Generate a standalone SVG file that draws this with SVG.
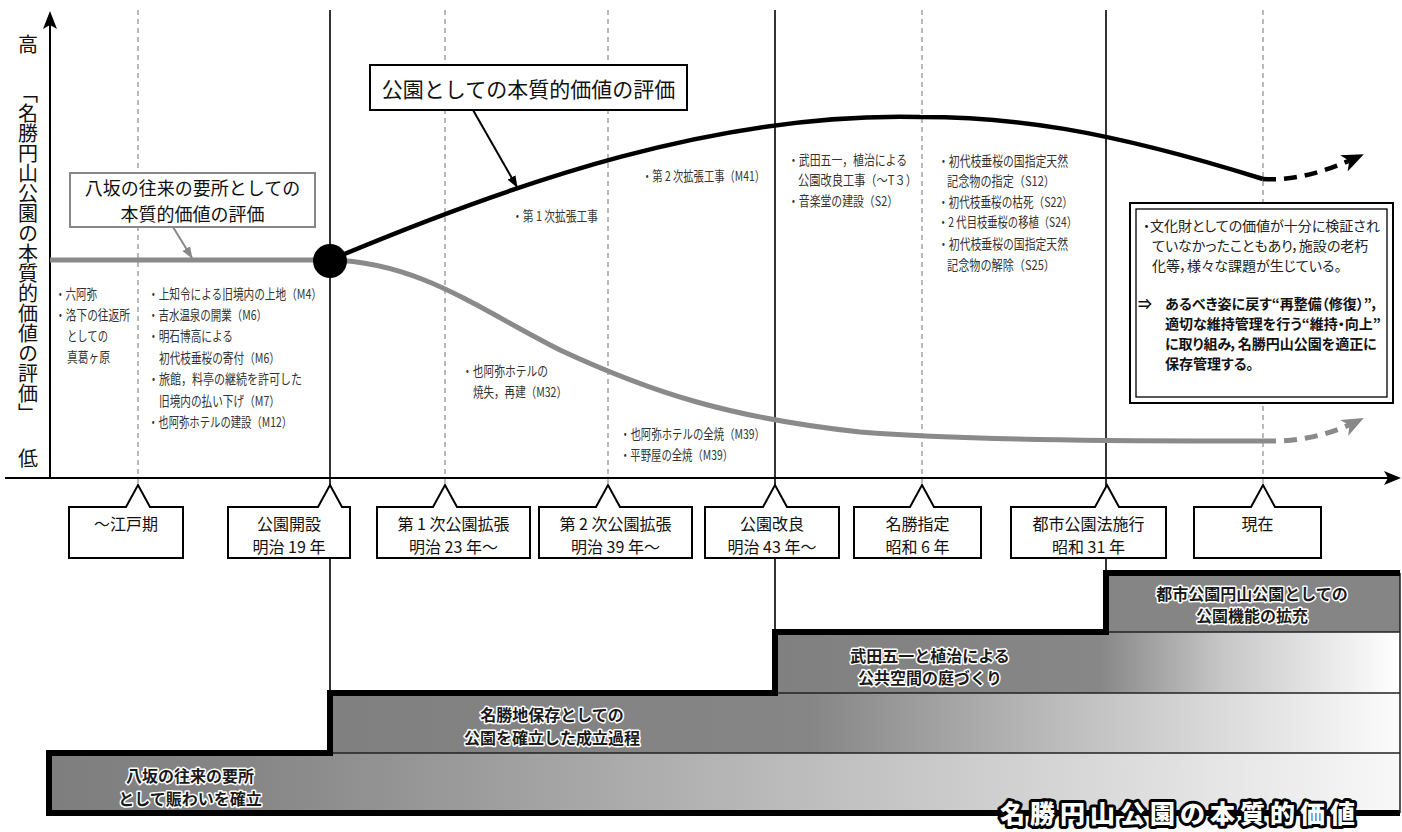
<svg xmlns="http://www.w3.org/2000/svg" width="1402" height="832" viewBox="0 0 1402 832">
<defs>
<style>
text { font-family: "Noto Sans CJK JP", "Noto Sans", sans-serif; dominant-baseline: central; }
.s { font-size: 13.5px; fill: #333; }
.lbl { font-size: 16px; fill: #111; text-anchor: middle; }
.ttl { font-size: 21px; fill: #111; text-anchor: middle; }
.ttl2 { font-size: 18px; fill: #111; text-anchor: middle; }
.ax { font-size: 20px; fill: #111; }
.note { font-size: 14px; fill: #222; font-feature-settings: "palt"; }
.noteb { font-size: 14px; fill: #111; font-weight: 700; font-feature-settings: "palt"; }
.band { font-size: 16px; font-weight: 700; fill: #1a1a1a; stroke: #fff; stroke-width: 3px; paint-order: stroke; stroke-linejoin: round; text-anchor: middle; }
.big { font-size: 25px; font-weight: 900; fill: #fff; stroke: #000; stroke-width: 6px; paint-order: stroke; stroke-linejoin: round; text-anchor: middle; letter-spacing: 5px; }
.dash { stroke: #a8a8a8; stroke-width: 1.6; stroke-dasharray: 5 4; fill: none; }
.solid { stroke: #000; stroke-width: 1.6; fill: none; }
.tb { fill: #fff; stroke: #000; stroke-width: 2; }
.sep { stroke: #222; stroke-width: 1.5; fill: none; }
</style>
<marker id="ahB" markerUnits="userSpaceOnUse" markerWidth="22" markerHeight="20" viewBox="0 0 22 20" refX="20" refY="10" orient="auto"><path d="M0,1 L22,10 L0,19 L6,10 Z" fill="#000"/></marker>
<marker id="ahG" markerUnits="userSpaceOnUse" markerWidth="22" markerHeight="20" viewBox="0 0 22 20" refX="20" refY="10" orient="auto"><path d="M0,1 L22,10 L0,19 L6,10 Z" fill="#888"/></marker>
<marker id="aS" markerUnits="userSpaceOnUse" markerWidth="12" markerHeight="10" viewBox="0 0 12 10" refX="11" refY="5" orient="auto"><path d="M0,0.5 L12,5 L0,9.5 Z" fill="#000"/></marker>
<marker id="aSG" markerUnits="userSpaceOnUse" markerWidth="12" markerHeight="10" viewBox="0 0 12 10" refX="11" refY="5" orient="auto"><path d="M0,0.5 L12,5 L0,9.5 Z" fill="#888"/></marker>
<linearGradient id="g1" x1="0" y1="0" x2="1" y2="0"><stop offset="0" stop-color="#7e7e7e"/><stop offset="0.15" stop-color="#868686"/><stop offset="0.5" stop-color="#b5b5b5"/><stop offset="0.8" stop-color="#dcdcdc"/><stop offset="1" stop-color="#f8f8f8"/></linearGradient>
<linearGradient id="g2" x1="0" y1="0" x2="1" y2="0"><stop offset="0" stop-color="#808080"/><stop offset="0.45" stop-color="#868686"/><stop offset="0.7" stop-color="#c0c0c0"/><stop offset="1" stop-color="#fcfcfc"/></linearGradient>
<linearGradient id="g3" x1="0" y1="0" x2="1" y2="0"><stop offset="0" stop-color="#808080"/><stop offset="0.52" stop-color="#878787"/><stop offset="0.72" stop-color="#c8c8c8"/><stop offset="1" stop-color="#ffffff"/></linearGradient>
</defs>
<rect width="1402" height="832" fill="#fff"/>

<!-- bottom staircase -->
<g id="bands">
<rect x="49" y="753" width="1351" height="60" fill="url(#g1)"/>
<rect x="330" y="693" width="1070" height="60" fill="url(#g2)"/>
<rect x="775" y="632" width="625" height="61" fill="url(#g3)"/>
<rect x="1106" y="573" width="294" height="59" fill="#858585"/>
<path class="sep" d="M330,753 H1400 M775,693 H1400 M1106,632 H1400 M1400,573 V813"/>
<path d="M1400,573 H1106 V632 H775 V693 H330 V753 H49 V813 H1400" fill="none" stroke="#000" stroke-width="6" stroke-linejoin="miter"/>
</g>

<!-- grid lines -->
<g id="grid">
<line class="dash" x1="138" y1="10" x2="138" y2="486"/>
<line class="dash" x1="445" y1="10" x2="445" y2="486"/>
<line class="dash" x1="608" y1="10" x2="608" y2="486"/>
<line class="dash" x1="922" y1="10" x2="922" y2="486"/>
<line class="dash" x1="1263" y1="10" x2="1263" y2="486"/>
<line class="solid" x1="330" y1="10" x2="330" y2="693"/>
<line class="solid" x1="775" y1="10" x2="775" y2="632"/>
<line class="solid" x1="1106" y1="10" x2="1106" y2="573"/>
</g>

<!-- axes -->
<g id="axes">
<line x1="50" y1="478" x2="50" y2="24" stroke="#000" stroke-width="2"/>
<polygon points="50,11 43,29 50,25 57,29" fill="#000"/>
<line x1="5" y1="478" x2="1388" y2="478" stroke="#000" stroke-width="2"/>
<polygon points="1401,478 1384,471 1388,478 1384,485" fill="#000"/>
<text class="ax" x="28" y="43" text-anchor="middle">高</text>
<text class="ax" x="28" y="83" style="writing-mode: vertical-rl">「名勝円山公園の本質的価値の評価」</text>
<text class="ax" x="28" y="457" text-anchor="middle">低</text>
</g>

<!-- connectors: value curves and callout arrows -->
<g id="connectors">
<path d="M50,260 H330 C420,262 480,310 560,350 C650,392 730,418 860,432 C960,440 1100,441 1263,441" fill="none" stroke="#8a8a8a" stroke-width="5"/>
<path d="M1263,441 C1300,442 1330,435 1362,419" fill="none" stroke="#8a8a8a" stroke-width="5" stroke-dasharray="13 8" marker-end="url(#ahG)"/>
<path d="M330,260 C520,180 720,112 920,117 C1010,117 1100,128 1263,179" fill="none" stroke="#000" stroke-width="4.5"/>
<path d="M1263,179 C1295,181 1325,172 1362,155" fill="none" stroke="#000" stroke-width="4.5" stroke-dasharray="13 8" marker-end="url(#ahB)"/>
<line x1="473" y1="110" x2="517" y2="187" stroke="#000" stroke-width="2" marker-end="url(#aS)"/>
<line x1="173" y1="227" x2="192" y2="258" stroke="#888" stroke-width="2" marker-end="url(#aSG)"/>
</g>

<g id="node-start">
<circle cx="330" cy="261" r="17" fill="#000"/>
</g>

<g id="callout-park">
<rect x="370" y="65" width="317" height="45" fill="#fff" stroke="#000" stroke-width="2"/>
<text class="ttl" x="528.5" y="88">公園としての本質的価値の評価</text>
</g>
<g id="callout-yasaka">
<rect x="70" y="173" width="245" height="54" fill="#fff" stroke="#888" stroke-width="2"/>
<text class="ttl2" x="192.5" y="186.5">八坂の往来の要所としての</text>
<text class="ttl2" x="192.5" y="212.5">本質的価値の評価</text>
</g>

<!-- event lists -->
<g id="events-edo">
<text class="s" x="55" y="293" textLength="42" lengthAdjust="spacingAndGlyphs">・六阿弥</text>
<text class="s" x="55" y="314" textLength="75" lengthAdjust="spacingAndGlyphs">・洛下の往返所</text>
<text class="s" x="67" y="335" textLength="41" lengthAdjust="spacingAndGlyphs">としての</text>
<text class="s" x="67" y="356" textLength="43" lengthAdjust="spacingAndGlyphs">真葛ヶ原</text>
</g>
<g id="events-meiji">
<text class="s" x="148" y="293" textLength="174" lengthAdjust="spacingAndGlyphs">・上知令による旧境内の上地（M4）</text>
<text class="s" x="148" y="314" textLength="119" lengthAdjust="spacingAndGlyphs">・吉水温泉の開業（M6）</text>
<text class="s" x="148" y="335" textLength="85" lengthAdjust="spacingAndGlyphs">・明石博高による</text>
<text class="s" x="159" y="357" textLength="121" lengthAdjust="spacingAndGlyphs">初代枝垂桜の寄付（M6）</text>
<text class="s" x="148" y="378" textLength="154" lengthAdjust="spacingAndGlyphs">・旅館，料亭の継続を許可した</text>
<text class="s" x="159" y="400" textLength="121" lengthAdjust="spacingAndGlyphs">旧境内の払い下げ（M7）</text>
<text class="s" x="148" y="421" textLength="144" lengthAdjust="spacingAndGlyphs">・也阿弥ホテルの建設（M12）</text>
</g>
<g id="events-exp">
<text class="s" x="512" y="215" textLength="86" lengthAdjust="spacingAndGlyphs">・第 1 次拡張工事</text>
<text class="s" x="642" y="175" textLength="123" lengthAdjust="spacingAndGlyphs">・第 2 次拡張工事（M41）</text>
<text class="s" x="462" y="370" textLength="86" lengthAdjust="spacingAndGlyphs">・也阿弥ホテルの</text>
<text class="s" x="473" y="391" textLength="94" lengthAdjust="spacingAndGlyphs">焼失，再建（M32）</text>
<text class="s" x="620" y="433" textLength="145" lengthAdjust="spacingAndGlyphs">・也阿弥ホテルの全焼（M39）</text>
<text class="s" x="620" y="454" textLength="113" lengthAdjust="spacingAndGlyphs">・平野屋の全焼（M39）</text>
</g>
<g id="events-kairyo">
<text class="s" x="788" y="159" textLength="119" lengthAdjust="spacingAndGlyphs">・武田五一，植治による</text>
<text class="s" x="798" y="179" textLength="119" lengthAdjust="spacingAndGlyphs">公園改良工事（～T３）</text>
<text class="s" x="788" y="200" textLength="110" lengthAdjust="spacingAndGlyphs">・音楽堂の建設（S2）</text>
</g>
<g id="events-meisho">
<text class="s" x="938" y="160" textLength="130" lengthAdjust="spacingAndGlyphs">・初代枝垂桜の国指定天然</text>
<text class="s" x="947" y="180" textLength="108" lengthAdjust="spacingAndGlyphs">記念物の指定（S12）</text>
<text class="s" x="938" y="201" textLength="135" lengthAdjust="spacingAndGlyphs">・初代枝垂桜の枯死（S22）</text>
<text class="s" x="938" y="221" textLength="139" lengthAdjust="spacingAndGlyphs">・2 代目枝垂桜の移植（S24）</text>
<text class="s" x="938" y="243" textLength="130" lengthAdjust="spacingAndGlyphs">・初代枝垂桜の国指定天然</text>
<text class="s" x="947" y="264" textLength="108" lengthAdjust="spacingAndGlyphs">記念物の解除（S25）</text>
</g>

<g id="note-box">
<rect x="1130" y="203" width="263" height="200" fill="#fff" stroke="#000" stroke-width="2"/>
<rect x="1136" y="209" width="251" height="188" fill="none" stroke="#000" stroke-width="1.3"/>
<text class="note" x="1143" y="225">・文化財としての価値が十分に検証され</text>
<text class="note" x="1152" y="245">ていなかったこともあり，施設の老朽</text>
<text class="note" x="1152" y="265">化等，様々な課題が生じている。</text>
<text class="noteb" x="1138" y="303">⇒</text>
<text class="noteb" x="1165" y="303">あるべき姿に戻す“再整備（修復）”，</text>
<text class="noteb" x="1165" y="323">適切な維持管理を行う“維持・向上”</text>
<text class="noteb" x="1165" y="343">に取り組み，名勝円山公園を適正に</text>
<text class="noteb" x="1165" y="363">保存管理する。</text>
</g>

<!-- timeline boxes -->
<g id="t-edo">
<path class="tb" d="M69,507 H126 L138,485 L150,507 H183 V558 H69 Z"/>
<text class="lbl" x="126" y="523">～江戸期</text>
</g>
<g id="t-kaisetsu">
<path class="tb" d="M228,507 H318 L330,485 L342,507 H350 V558 H228 Z"/>
<text class="lbl" x="289" y="523">公園開設</text>
<text class="lbl" x="289" y="546">明治 19 年</text>
</g>
<g id="t-kakucho1">
<path class="tb" d="M377,507 H433 L445,485 L457,507 H530 V558 H377 Z"/>
<text class="lbl" x="453.5" y="523">第 1 次公園拡張</text>
<text class="lbl" x="453.5" y="546">明治 23 年～</text>
</g>
<g id="t-kakucho2">
<path class="tb" d="M539,507 H596 L608,485 L620,507 H692 V558 H539 Z"/>
<text class="lbl" x="615.5" y="523">第 2 次公園拡張</text>
<text class="lbl" x="615.5" y="546">明治 39 年～</text>
</g>
<g id="t-kairyo">
<path class="tb" d="M705,507 H763 L775,485 L787,507 H839 V558 H705 Z"/>
<text class="lbl" x="772" y="523">公園改良</text>
<text class="lbl" x="772" y="546">明治 43 年～</text>
</g>
<g id="t-meisho">
<path class="tb" d="M854,507 H910 L922,485 L934,507 H981 V558 H854 Z"/>
<text class="lbl" x="917.5" y="523">名勝指定</text>
<text class="lbl" x="917.5" y="546">昭和 6 年</text>
</g>
<g id="t-toshikoen">
<path class="tb" d="M1011,507 H1095 L1107,485 L1119,507 H1166 V558 H1011 Z"/>
<text class="lbl" x="1088.5" y="523">都市公園法施行</text>
<text class="lbl" x="1088.5" y="546">昭和 31 年</text>
</g>
<g id="t-genzai">
<path class="tb" d="M1194,507 H1251 L1263,485 L1275,507 H1321 V558 H1194 Z"/>
<text class="lbl" x="1257.5" y="523">現在</text>
</g>

<!-- band labels -->
<g id="band-labels">
<text class="band" x="1252" y="593">都市公園円山公園としての</text>
<text class="band" x="1252" y="615">公園機能の拡充</text>
<text class="band" x="930" y="655">武田五一と植治による</text>
<text class="band" x="930" y="677">公共空間の庭づくり</text>
<text class="band" x="552" y="714">名勝地保存としての</text>
<text class="band" x="552" y="737">公園を確立した成立過程</text>
<text class="band" x="190" y="775">八坂の往来の要所</text>
<text class="band" x="190" y="798">として賑わいを確立</text>
<text class="big" x="1180" y="812">名勝円山公園の本質的価値</text>
</g>
</svg>
